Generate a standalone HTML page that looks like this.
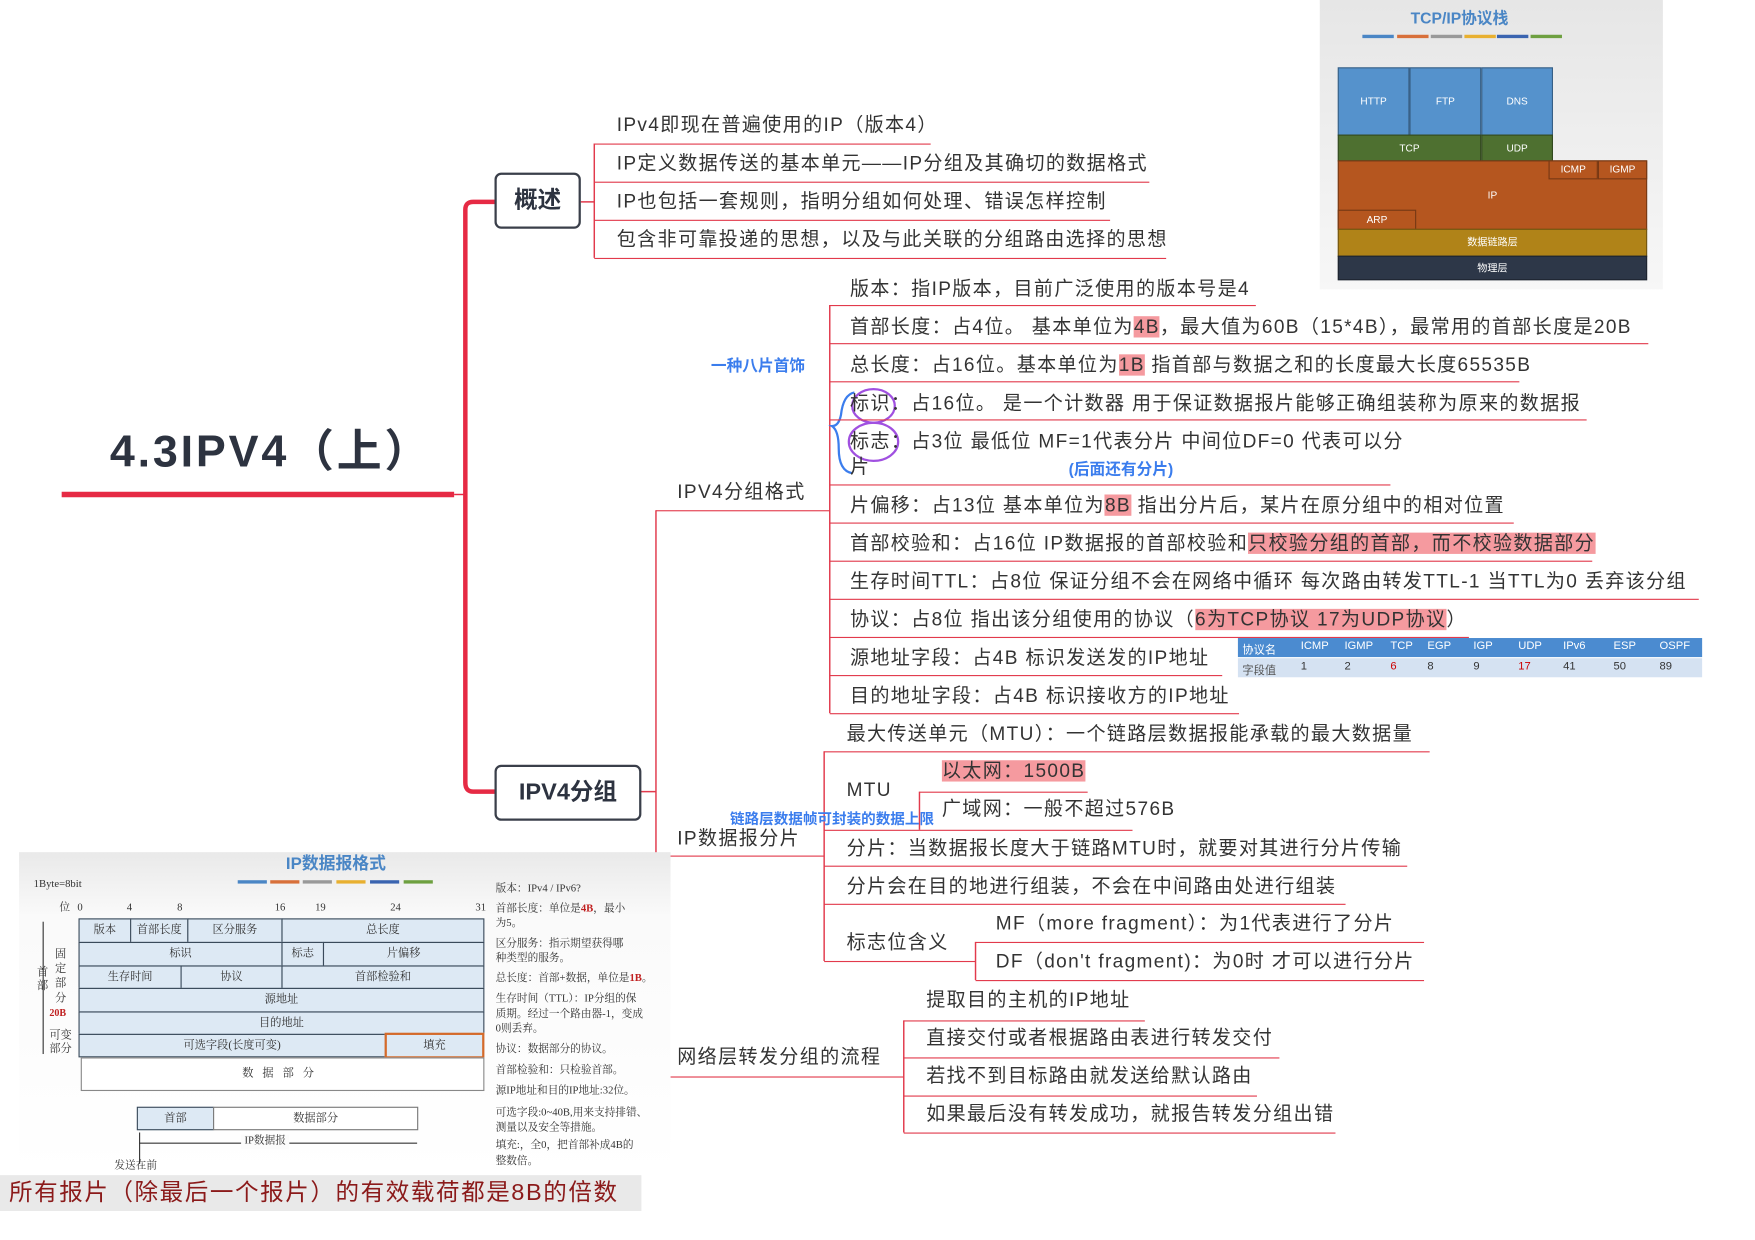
<!DOCTYPE html>
<html><head><meta charset="utf-8">
<style>
html,body{margin:0;padding:0;background:#fff;overflow:hidden}
body{width:1755px;height:1240px;position:relative}
#c{position:absolute;left:0;top:0;width:1565px;height:1106px;transform:scale(1.1213);transform-origin:0 0;font-family:"Liberation Sans","Noto Sans CJK SC",sans-serif;color:#333}
.t{position:absolute;white-space:nowrap;font-size:17px;line-height:22px;letter-spacing:1.2px}
.u{position:absolute;height:1.3px;background:#e23a4c}
.hl{background:#f59a9f}
.b{position:absolute;white-space:nowrap}
.cell{position:absolute;box-sizing:border-box;border:1px solid #3a4a5a;background:#dde9f4;font-size:10px;text-align:center;line-height:19px;font-family:"Liberation Serif","Noto Serif CJK SC",serif;color:#333}
.n{position:absolute;white-space:nowrap;font-size:9.5px;line-height:13px;font-family:"Liberation Serif","Noto Serif CJK SC",serif;color:#333}
.st{position:absolute;box-sizing:border-box;border:1px solid rgba(0,0,0,.35);color:#fff;font-size:9px;text-align:center}
</style></head><body>
<div id="c">
<svg width="1565" height="1106" style="position:absolute;left:0;top:0">
<g fill="none" stroke="#e62a44">
<line x1="55" y1="441" x2="405" y2="441" stroke-width="5"/>
<path d="M441,180 H422 Q415,180 415,187 V698 Q415,706 422,706 H441" stroke-width="4"/>
<line x1="405" y1="441" x2="415" y2="441" stroke-width="1.3"/>
</g>
<g fill="none" stroke="#e23a4c" stroke-width="1.3">
<path d="M518,180 H530 M530,128 V230"/>
<path d="M571,706 H585 M585,455 V960"/>
<path d="M740,272 V636"/>
<path d="M735,670 V857"/>
<path d="M806,910 V1010"/>
<path d="M820,706 V740"/>
<path d="M870,840 V874"/>
</g>
<g fill="none" stroke-width="2">
<path d="M762,350 Q752,352 750,370 Q748,380 742,380 Q748,384 748,400 Q748,420 760,422" stroke="#3b7ded"/>
<ellipse cx="779" cy="362" rx="19" ry="15" stroke="#a050e0"/>
<ellipse cx="779" cy="394" rx="22" ry="17" stroke="#a050e0"/>
</g>
</svg>

<div class="b" style="left:98px;top:370px;font-size:40px;font-weight:bold;color:#2d3340;letter-spacing:2.5px">4.3IPV4（上）</div>

<div class="b" style="left:441px;top:154px;width:73px;height:46px;border:2px solid #3a3f4a;border-radius:6px;font-size:21px;font-weight:bold;text-align:center;line-height:46px;color:#2d3340">概述</div>
<div class="b" style="left:441px;top:682px;width:127px;height:46px;border:2px solid #3a3f4a;border-radius:6px;font-size:21px;font-weight:bold;text-align:center;line-height:46px;color:#2d3340">IPV4分组</div>

<div class="t" style="left:550px;top:101px">IPv4即现在普遍使用的IP（版本4）</div><div class="u" style="left:530px;top:128px;width:300px"></div>
<div class="t" style="left:550px;top:135px">IP定义数据传送的基本单元——IP分组及其确切的数据格式</div><div class="u" style="left:530px;top:162px;width:495px"></div>
<div class="t" style="left:550px;top:169px">IP也包括一套规则，指明分组如何处理、错误怎样控制</div><div class="u" style="left:530px;top:196px;width:460px"></div>
<div class="t" style="left:550px;top:203px">包含非可靠投递的思想，以及与此关联的分组路由选择的思想</div><div class="u" style="left:530px;top:230px;width:510px"></div>

<div class="t" style="left:604px;top:428px">IPV4分组格式</div><div class="u" style="left:585px;top:455px;width:155px"></div>
<div class="b" style="left:634px;top:316px;font-size:14px;font-weight:bold;color:#3b7ded">一种八片首饰</div>
<div class="t" style="left:758px;top:247px">版本：指IP版本，目前广泛使用的版本号是4</div><div class="u" style="left:740px;top:272px;width:380px"></div>
<div class="t" style="left:758px;top:281px">首部长度：占4位。 基本单位为<span class="hl">4B</span>，最大值为60B（15*4B），最常用的首部长度是20B</div><div class="u" style="left:740px;top:306px;width:730px"></div>
<div class="t" style="left:758px;top:315px">总长度：占16位。基本单位为<span class="hl">1B</span>  指首部与数据之和的长度最大长度65535B</div><div class="u" style="left:740px;top:340px;width:615px"></div>
<div class="t" style="left:758px;top:349px">标识：占16位。 是一个计数器 用于保证数据报片能够正确组装称为原来的数据报</div><div class="u" style="left:740px;top:374px;width:675px"></div>
<div class="t" style="left:758px;top:383px">标志：占3位  最低位 MF=1代表分片  中间位DF=0 代表可以分</div>
<div class="t" style="left:758px;top:406px">片</div>
<div class="b" style="left:953px;top:408px;font-size:14px;font-weight:bold;color:#3b7ded">(后面还有分片)</div><div class="u" style="left:740px;top:432px;width:500px"></div>
<div class="t" style="left:758px;top:440px">片偏移：占13位  基本单位为<span class="hl">8B</span> 指出分片后，某片在原分组中的相对位置</div><div class="u" style="left:740px;top:466px;width:610px"></div>
<div class="t" style="left:758px;top:474px">首部校验和：占16位  IP数据报的首部校验和<span class="hl">只校验分组的首部，而不校验数据部分</span></div><div class="u" style="left:740px;top:500px;width:680px"></div>
<div class="t" style="left:758px;top:508px">生存时间TTL：占8位  保证分组不会在网络中循环  每次路由转发TTL-1  当TTL为0 丢弃该分组</div><div class="u" style="left:740px;top:534px;width:775px"></div>
<div class="t" style="left:758px;top:542px">协议：占8位  指出该分组使用的协议（<span class="hl">6为TCP协议  17为UDP协议</span>）</div><div class="u" style="left:740px;top:568px;width:570px"></div>
<div class="t" style="left:758px;top:576px">源地址字段：占4B  标识发送发的IP地址</div><div class="u" style="left:740px;top:602px;width:350px"></div>
<div class="t" style="left:758px;top:610px">目的地址字段：占4B  标识接收方的IP地址</div><div class="u" style="left:740px;top:636px;width:365px"></div>

<div class="b" style="left:1104px;top:569px;width:414px;height:35px;font-size:10px;font-family:'Liberation Sans','Noto Sans CJK SC',sans-serif">
<div style="position:absolute;left:0;top:0;width:414px;height:17px;background:#4b8bd0;color:#fff"></div>
<div style="position:absolute;left:0;top:18px;width:414px;height:17px;background:#d5e2f2"></div>
<span style="position:absolute;left:4px;top:2px;color:#fff">协议名</span><span style="position:absolute;left:4px;top:20px;color:#555">字段值</span>
<span style="position:absolute;left:56px;top:2px;color:#fff">ICMP</span><span style="position:absolute;left:56px;top:20px">1</span>
<span style="position:absolute;left:95px;top:2px;color:#fff">IGMP</span><span style="position:absolute;left:95px;top:20px">2</span>
<span style="position:absolute;left:136px;top:2px;color:#fff">TCP</span><span style="position:absolute;left:136px;top:20px;color:#c00">6</span>
<span style="position:absolute;left:169px;top:2px;color:#fff">EGP</span><span style="position:absolute;left:169px;top:20px">8</span>
<span style="position:absolute;left:210px;top:2px;color:#fff">IGP</span><span style="position:absolute;left:210px;top:20px">9</span>
<span style="position:absolute;left:250px;top:2px;color:#fff">UDP</span><span style="position:absolute;left:250px;top:20px;color:#c00">17</span>
<span style="position:absolute;left:290px;top:2px;color:#fff">IPv6</span><span style="position:absolute;left:290px;top:20px">41</span>
<span style="position:absolute;left:335px;top:2px;color:#fff">ESP</span><span style="position:absolute;left:335px;top:20px">50</span>
<span style="position:absolute;left:376px;top:2px;color:#fff">OSPF</span><span style="position:absolute;left:376px;top:20px">89</span>
</div>

<div class="t" style="left:604px;top:737px">IP数据报分片</div><div class="u" style="left:585px;top:763px;width:150px"></div>
<div class="b" style="left:651px;top:720px;font-size:13px;font-weight:bold;color:#3b7ded">链路层数据帧可封装的数据上限</div>
<div class="t" style="left:755px;top:644px">最大传送单元（MTU）：一个链路层数据报能承载的最大数据量</div><div class="u" style="left:735px;top:670px;width:540px"></div>
<div class="t" style="left:755px;top:694px">MTU</div><div class="u" style="left:735px;top:740px;width:85px"></div>
<div class="t" style="left:840px;top:677px"><span class="hl">以太网：1500B</span></div><div class="u" style="left:820px;top:706px;width:150px"></div>
<div class="t" style="left:840px;top:711px">广域网：一般不超过576B</div><div class="u" style="left:820px;top:740px;width:190px"></div>
<div class="t" style="left:755px;top:746px">分片：当数据报长度大于链路MTU时，就要对其进行分片传输</div><div class="u" style="left:735px;top:772px;width:520px"></div>
<div class="t" style="left:755px;top:780px">分片会在目的地进行组装，不会在中间路由处进行组装</div><div class="u" style="left:735px;top:806px;width:465px"></div>
<div class="t" style="left:755px;top:830px">标志位含义</div><div class="u" style="left:735px;top:857px;width:135px"></div>
<div class="t" style="left:888px;top:813px">MF（more fragment）：为1代表进行了分片</div><div class="u" style="left:870px;top:840px;width:400px"></div>
<div class="t" style="left:888px;top:847px">DF（don't fragment)：为0时 才可以进行分片</div><div class="u" style="left:870px;top:874px;width:400px"></div>

<div class="t" style="left:604px;top:932px">网络层转发分组的流程</div><div class="u" style="left:598px;top:960px;width:208px"></div>
<div class="t" style="left:826px;top:881px">提取目的主机的IP地址</div><div class="u" style="left:806px;top:910px;width:215px"></div>
<div class="t" style="left:826px;top:915px">直接交付或者根据路由表进行转发交付</div><div class="u" style="left:806px;top:943px;width:335px"></div>
<div class="t" style="left:826px;top:949px">若找不到目标路由就发送给默认路由</div><div class="u" style="left:806px;top:977px;width:315px"></div>
<div class="t" style="left:826px;top:983px">如果最后没有转发成功，就报告转发分组出错</div><div class="u" style="left:806px;top:1010px;width:385px"></div>

<div class="b" style="left:1177px;top:0;width:306px;height:258px;background:linear-gradient(#e6e6e6,#f7f7f7)"></div>
<div class="b" style="left:1258px;top:6px;font-size:14px;font-weight:bold;color:#4a86c5">TCP/IP协议栈</div>
<div class="b" style="left:1215px;top:31px;width:28px;height:3px;background:#4a86c5"></div>
<div class="b" style="left:1246px;top:31px;width:28px;height:3px;background:#d8703a"></div>
<div class="b" style="left:1276px;top:31px;width:28px;height:3px;background:#999"></div>
<div class="b" style="left:1306px;top:31px;width:28px;height:3px;background:#e8b030"></div>
<div class="b" style="left:1335px;top:31px;width:28px;height:3px;background:#3a64b0"></div>
<div class="b" style="left:1365px;top:31px;width:28px;height:3px;background:#6ea040"></div>
<div class="st" style="left:1193px;top:60px;width:64px;height:61px;background:#5592cc;line-height:59px">HTTP</div>
<div class="st" style="left:1257px;top:60px;width:64px;height:61px;background:#5592cc;line-height:59px">FTP</div>
<div class="st" style="left:1321px;top:60px;width:64px;height:61px;background:#5592cc;line-height:59px">DNS</div>
<div class="st" style="left:1193px;top:120px;width:128px;height:24px;background:#4e7030;line-height:22px">TCP</div>
<div class="st" style="left:1321px;top:120px;width:64px;height:24px;background:#4e7030;line-height:22px">UDP</div>
<div class="st" style="left:1193px;top:143px;width:276px;height:62px;background:#b5561f;line-height:60px">IP</div>
<div class="st" style="left:1381px;top:143px;width:44px;height:17px;background:#b5561f;line-height:15px">ICMP</div>
<div class="st" style="left:1425px;top:143px;width:44px;height:17px;background:#b5561f;line-height:15px">IGMP</div>
<div class="st" style="left:1193px;top:187px;width:70px;height:18px;background:#b5561f;line-height:16px">ARP</div>
<div class="st" style="left:1193px;top:204px;width:276px;height:25px;background:#b08318;line-height:23px">数据链路层</div>
<div class="st" style="left:1193px;top:228px;width:276px;height:22px;background:#2d3748;line-height:20px">物理层</div>

<div class="b" style="left:17px;top:760px;width:581px;height:288px;background:linear-gradient(#e9e9e9,#fafafa 20%,#fff)"></div>
<div class="b" style="left:255px;top:759px;font-size:15px;font-weight:bold;color:#4a86c5">IP数据报格式</div>
<div class="b" style="left:212px;top:785px;width:26px;height:3px;background:#4a86c5"></div>
<div class="b" style="left:241px;top:785px;width:26px;height:3px;background:#d8703a"></div>
<div class="b" style="left:270px;top:785px;width:26px;height:3px;background:#999"></div>
<div class="b" style="left:300px;top:785px;width:26px;height:3px;background:#e8b030"></div>
<div class="b" style="left:330px;top:785px;width:26px;height:3px;background:#3a64b0"></div>
<div class="b" style="left:360px;top:785px;width:26px;height:3px;background:#6ea040"></div>
<div class="n" style="left:30px;top:783px">1Byte=8bit</div>
<div class="n" style="left:53px;top:804px">位</div><div class="n" style="left:69px;top:804px">0</div><div class="n" style="left:113px;top:804px">4</div><div class="n" style="left:158px;top:804px">8</div><div class="n" style="left:245px;top:804px">16</div><div class="n" style="left:281px;top:804px">19</div><div class="n" style="left:348px;top:804px">24</div><div class="n" style="left:424px;top:804px">31</div>
<div class="cell" style="left:70px;top:819px;width:47px;height:22px">版本</div>
<div class="cell" style="left:116px;top:819px;width:52px;height:22px">首部长度</div>
<div class="cell" style="left:167px;top:819px;width:85px;height:22px">区分服务</div>
<div class="cell" style="left:251px;top:819px;width:181px;height:22px">总长度</div>
<div class="cell" style="left:70px;top:840px;width:182px;height:22px">标识</div>
<div class="cell" style="left:251px;top:840px;width:38px;height:22px">标志</div>
<div class="cell" style="left:288px;top:840px;width:144px;height:22px">片偏移</div>
<div class="cell" style="left:70px;top:861px;width:92px;height:21px">生存时间</div>
<div class="cell" style="left:161px;top:861px;width:91px;height:21px">协议</div>
<div class="cell" style="left:251px;top:861px;width:181px;height:21px">首部检验和</div>
<div class="cell" style="left:70px;top:881px;width:362px;height:22px">源地址</div>
<div class="cell" style="left:70px;top:902px;width:362px;height:21px">目的地址</div>
<div class="cell" style="left:70px;top:922px;width:274px;height:21px">可选字段(长度可变)</div>
<div class="cell" style="left:343px;top:921px;width:89px;height:23px;border:2px solid #d46a2a">填充</div>
<div class="cell" style="left:72px;top:943px;width:360px;height:30px;background:#fff;border-color:#888;line-height:28px;letter-spacing:8px">数据部分</div>
<div class="n" style="left:33px;top:862px;width:10px;white-space:normal;font-size:10px;line-height:12px">首部</div>
<div class="n" style="left:49px;top:845px;width:10px;white-space:normal;font-size:10px;line-height:13px">固定部分</div>
<div class="n" style="left:44px;top:897px;color:#c02020;font-weight:bold;font-size:9px">20B</div>
<div class="n" style="left:44px;top:918px;width:22px;white-space:normal;font-size:10px;line-height:12px">可变部分</div>
<div class="b" style="left:38px;top:822px;width:1px;height:118px;background:#333"></div>
<div class="cell" style="left:122px;top:987px;width:69px;height:21px">首部</div>
<div class="cell" style="left:190px;top:987px;width:183px;height:21px;background:#fff;border-color:#777">数据部分</div>
<div class="b" style="left:124px;top:1019px;width:248px;height:1px;background:#333"></div>
<div class="b" style="left:124px;top:1010px;width:1px;height:28px;background:#333"></div>
<div class="n" style="left:215px;top:1012px;background:#fbfbfb;padding:0 3px">IP数据报</div>
<div class="n" style="left:102px;top:1034px">发送在前</div>
<div class="n" style="left:442px;top:787px">版本：IPv4 / IPv6?</div>
<div class="n" style="left:442px;top:805px">首部长度：单位是<b style="color:#c02020">4B</b>，最小</div>
<div class="n" style="left:442px;top:818px">为5。</div>
<div class="n" style="left:442px;top:836px">区分服务：指示期望获得哪</div>
<div class="n" style="left:442px;top:849px">种类型的服务。</div>
<div class="n" style="left:442px;top:867px">总长度：首部+数据，单位是<b style="color:#c02020">1B</b>。</div>
<div class="n" style="left:442px;top:885px">生存时间（TTL）：IP分组的保</div>
<div class="n" style="left:442px;top:899px">质期。经过一个路由器-1，变成</div>
<div class="n" style="left:442px;top:912px">0则丢弃。</div>
<div class="n" style="left:442px;top:930px">协议：数据部分的协议。</div>
<div class="n" style="left:442px;top:949px">首部检验和：只检验首部。</div>
<div class="n" style="left:442px;top:967px">源IP地址和目的IP地址:32位。</div>
<div class="n" style="left:442px;top:987px">可选字段:0~40B,用来支持排错、</div>
<div class="n" style="left:442px;top:1000px">测量以及安全等措施。</div>
<div class="n" style="left:442px;top:1016px">填充:，全0，把首部补成4B的</div>
<div class="n" style="left:442px;top:1030px">整数倍。</div>
<div class="b" style="left:0;top:1048px;width:572px;height:32px;background:#e9e9e9"></div>
<div class="b" style="left:8px;top:1050px;font-size:21px;line-height:28px;color:#8b1a1a;letter-spacing:1.4px">所有报片（除最后一个报片）的有效载荷都是8B的倍数</div>
</div>
</body></html>
